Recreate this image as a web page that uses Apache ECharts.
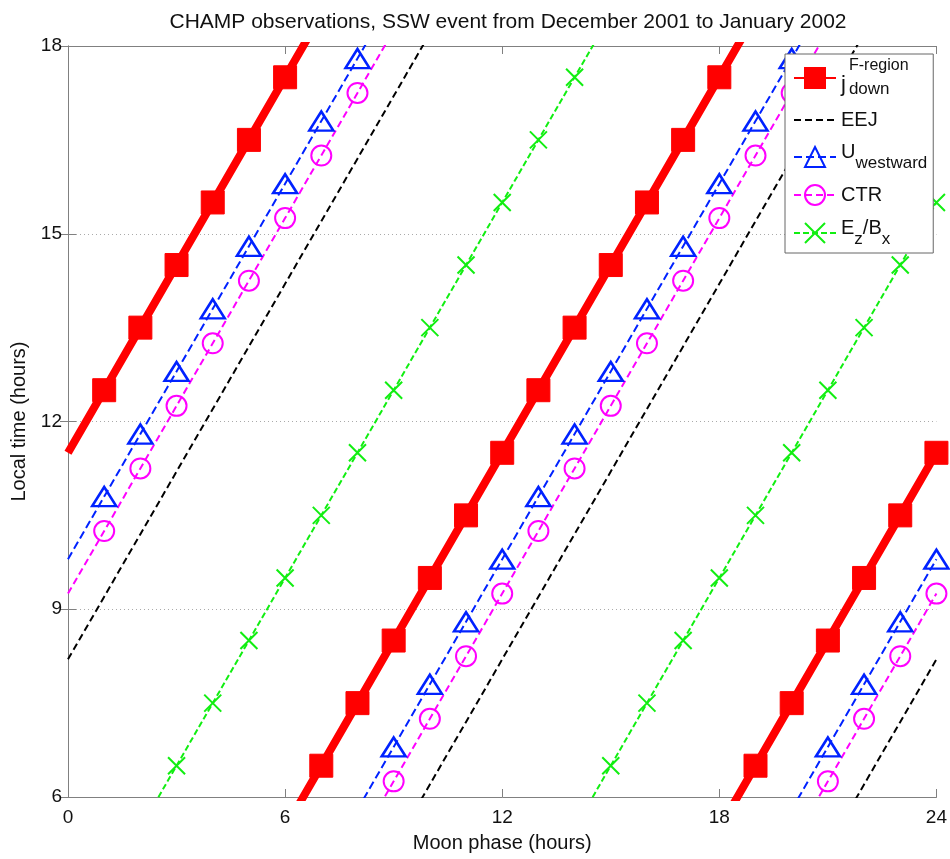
<!DOCTYPE html>
<html>
<head>
<meta charset="utf-8">
<script src="https://cdn.jsdelivr.net/npm/echarts@6/dist/echarts.min.js"></script>
<style>
  html, body { margin: 0; padding: 0; background: #fff; }
  #chart { width: 950px; height: 859px; }
</style>
</head>
<body>
<div id="chart"></div>
<script>
// moon phase (hours), one sample per hour
const moonPhase = [0, 1, 2, 3, 4, 5, 6, 7, 8, 9, 10, 11, 12, 13, 14, 15, 16, 17, 18, 19, 20, 21, 22, 23, 24];

// local time (hours) of each feature, wrapped into the 6-18 window
const jDown    = [11.5, 12.5, 13.5, 14.5, 15.5, 16.5, 17.5, 6.5, 7.5, 8.5, 9.5, 10.5, 11.5, 12.5, 13.5, 14.5, 15.5, 16.5, 17.5, 6.5, 7.5, 8.5, 9.5, 10.5, 11.5];
const eej      = [8.2, 9.2, 10.2, 11.2, 12.2, 13.2, 14.2, 15.2, 16.2, 17.2, 6.2, 7.2, 8.2, 9.2, 10.2, 11.2, 12.2, 13.2, 14.2, 15.2, 16.2, 17.2, 6.2, 7.2, 8.2];
const uWest    = [9.8, 10.8, 11.8, 12.8, 13.8, 14.8, 15.8, 16.8, 17.8, 6.8, 7.8, 8.8, 9.8, 10.8, 11.8, 12.8, 13.8, 14.8, 15.8, 16.8, 17.8, 6.8, 7.8, 8.8, 9.8];
const ctr      = [9.25, 10.25, 11.25, 12.25, 13.25, 14.25, 15.25, 16.25, 17.25, 6.25, 7.25, 8.25, 9.25, 10.25, 11.25, 12.25, 13.25, 14.25, 15.25, 16.25, 17.25, 6.25, 7.25, 8.25, 9.25];
const ezBx     = [null, null, 5.5, 6.5, 7.5, 8.5, 9.5, 10.5, 11.5, 12.5, 13.5, 14.5, 15.5, 16.5, 17.5, 6.5, 7.5, 8.5, 9.5, 10.5, 11.5, 12.5, 13.5, 14.5, 15.5];

const FONT = '"Liberation Sans", Arial, Helvetica, sans-serif';

// turn a wrapped series into line data: at each wrap the line runs on past
// the top and restarts below the bottom, the grid clips both ends
function buildLine(values, withMarkers) {
    const out = [];
    for (let i = 0; i < values.length; i++) {
        const v = values[i];
        if (v == null) continue;
        const prev = i > 0 ? values[i - 1] : null;
        if (prev != null && v < prev) {
            out.push({ value: [moonPhase[i], v + 12], symbol: 'none' });
            out.push({ value: ['-', '-'], symbol: 'none' });
            out.push({ value: [moonPhase[i - 1], prev - 12], symbol: 'none' });
        }
        const item = { value: [moonPhase[i], v] };
        if (!withMarkers || i === 0 || v < 6 || v > 18) item.symbol = 'none';
        out.push(item);
    }
    return out;
}

var myChart = echarts.init(document.getElementById('chart'));

var axisLineStyle = { color: '#808080', width: 1 };
var txt = '#111';

option = {
    animation: false,
    textStyle: { fontFamily: FONT },
    title: {
        text: 'CHAMP observations, SSW event from December 2001 to January 2002',
        left: 503,
        textAlign: 'center',
        top: 7,
        textStyle: { fontFamily: FONT, fontSize: 21, fontWeight: 'normal', color: txt }
    },
    grid: { left: 68, right: 12, top: 46, bottom: 62 },
    legend: {
        orient: 'vertical',
        left: 785,
        top: 54,
        padding: [4, 6, 5, 8],
        itemGap: 12,
        itemWidth: 42,
        itemHeight: 25,
        backgroundColor: '#fff',
        borderColor: '#666',
        borderWidth: 1,
        borderRadius: 0,
        selectedMode: false,
        textStyle: {
            fontFamily: FONT,
            fontSize: 20,
            color: txt,
            rich: {
                pad: { width: 8, fontSize: 16 },
                sup: { fontSize: 16, fontFamily: FONT, color: txt, lineHeight: 16 },
                j: { fontSize: 22, fontFamily: FONT, color: txt, lineHeight: 24, verticalAlign: 'top', padding: [0, 3, 0, 0] },
                down: { fontSize: 17, fontFamily: FONT, color: txt, lineHeight: 24, verticalAlign: 'bottom' },
                t: { fontSize: 20, fontFamily: FONT, color: txt, lineHeight: 22, verticalAlign: 'top' },
                sub: { fontSize: 17, fontFamily: FONT, color: txt, lineHeight: 30, verticalAlign: 'bottom' }
            }
        },
        formatter: function (name) {
            if (name === 'jdown') return '{pad|}{sup|F-region}\n{j|j}{down|down}';
            if (name === 'Uwest') return '{t|U}{sub|westward}';
            if (name === 'EzBx') return '{t|E}{sub|z}{t|/B}{sub|x}';
            return name;
        },
        data: ['jdown', 'EEJ', 'Uwest', 'CTR', 'EzBx']
    },
    xAxis: [
        {
            type: 'value',
            min: 0,
            max: 24,
            interval: 6,
            name: 'Moon phase (hours)',
            nameLocation: 'middle',
            nameGap: 36,
            nameTextStyle: { fontFamily: FONT, fontSize: 20, color: txt },
            axisLine: { lineStyle: axisLineStyle },
            axisTick: { inside: true, length: 8, lineStyle: axisLineStyle },
            axisLabel: { fontFamily: FONT, fontSize: 19, color: txt, margin: 11 },
            splitLine: { show: false }
        },
        {
            type: 'value',
            position: 'top',
            min: 0,
            max: 24,
            interval: 6,
            axisLine: { lineStyle: axisLineStyle },
            axisTick: { inside: true, length: 8, lineStyle: axisLineStyle },
            axisLabel: { show: false },
            splitLine: { show: false }
        }
    ],
    yAxis: [
        {
            type: 'value',
            min: 6,
            max: 18,
            interval: 3,
            name: 'Local time (hours)',
            nameLocation: 'middle',
            nameGap: 37,
            nameTextStyle: { fontFamily: FONT, fontSize: 20, color: txt },
            axisLine: { show: true, lineStyle: axisLineStyle },
            axisTick: { show: true, inside: true, length: 8, lineStyle: axisLineStyle },
            axisLabel: { fontFamily: FONT, fontSize: 19, color: txt, margin: 6 },
            splitLine: { show: true, lineStyle: { color: '#aaa', type: [1, 3], width: 1 } }
        },
        {
            type: 'value',
            position: 'right',
            min: 6,
            max: 18,
            interval: 3,
            axisLine: { show: true, lineStyle: axisLineStyle },
            axisTick: { show: true, inside: true, length: 8, lineStyle: axisLineStyle },
            axisLabel: { show: false },
            splitLine: { show: false }
        }
    ],
    series: [
        {
            name: 'jdown',
            type: 'line',
            data: buildLine(jDown, true),
            symbol: 'rect',
            symbolSize: 23,
            lineStyle: { color: '#ff0000', width: 8 },
            itemStyle: { color: '#ff0000', borderColor: '#ff0000', borderWidth: 1 },
            z: 5
        },
        {
            name: 'EEJ',
            type: 'line',
            data: buildLine(eej, false),
            symbol: 'circle',
            showSymbol: false,
            lineStyle: { color: '#000000', width: 2, type: [7, 4] },
            itemStyle: { color: 'rgba(0,0,0,0)', borderWidth: 0 }
        },
        {
            name: 'Uwest',
            type: 'line',
            data: buildLine(uWest, true),
            symbol: 'triangle',
            symbolSize: [24, 19],
            lineStyle: { color: '#0022ff', width: 2, type: [8, 4] },
            itemStyle: { color: 'rgba(255,255,255,0)', borderColor: '#0022ff', borderWidth: 2.5 }
        },
        {
            name: 'CTR',
            type: 'line',
            data: buildLine(ctr, true),
            symbol: 'circle',
            symbolSize: 20,
            lineStyle: { color: '#ff00ff', width: 2, type: [7, 4] },
            itemStyle: { color: 'rgba(255,255,255,0)', borderColor: '#ff00ff', borderWidth: 2 }
        },
        {
            name: 'EzBx',
            type: 'line',
            data: buildLine(ezBx, true),
            symbol: 'path://M0,0L10,10M10,0L0,10',
            symbolSize: 17,
            lineStyle: { color: '#11ee11', width: 2, type: [6, 3] },
            itemStyle: { color: 'rgba(255,255,255,0)', borderColor: '#11ee11', borderWidth: 2 }
        }
    ]
};
myChart.setOption(option);
</script>
</body>
</html>
